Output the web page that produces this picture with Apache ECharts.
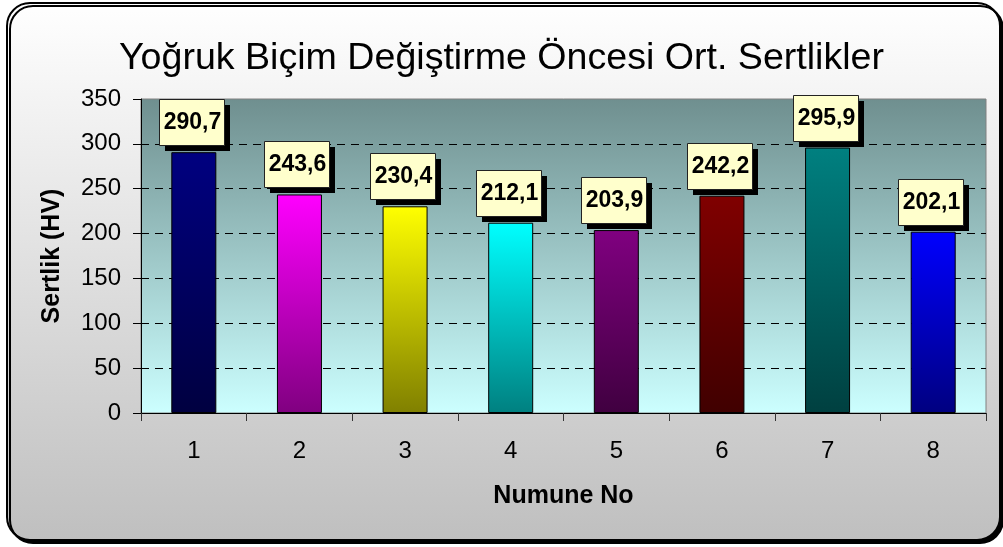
<!DOCTYPE html>
<html>
<head>
<meta charset="utf-8">
<style>
  html, body { margin: 0; padding: 0; background: #fff; }
  #chart { width: 1003px; height: 547px; }
</style>
<script src="https://cdn.jsdelivr.net/npm/echarts@6/dist/echarts.min.js"></script>
</head>
<body>
<div id="chart"></div>
<script>
// Sample numbers and their mean hardness values (HV)
const categories = ['1', '2', '3', '4', '5', '6', '7', '8'];
const hardness = [290.7, 243.6, 230.4, 212.1, 203.9, 242.2, 295.9, 202.1];
// Per-bar gradient: bright top colour fading to a dark bottom colour
const topColors = ['#000080', '#ff00ff', '#ffff00', '#00ffff', '#800080', '#800000', '#008080', '#0000ff'];
const bottomColors = ['#000040', '#800080', '#808000', '#008080', '#400040', '#400000', '#004040', '#000080'];
const yTicks = [0, 50, 100, 150, 200, 250, 300, 350];

const FONT = "'Liberation Sans', Arial, sans-serif";
const chart = echarts.init(document.getElementById('chart'), null, { renderer: 'canvas' });

const fmt = v => v.toFixed(1).replace('.', ',');

const barData = hardness.map((v, i) => ({
  value: v,
  itemStyle: {
    color: new echarts.graphic.LinearGradient(0, 0, 0, 1, [
      { offset: 0, color: topColors[i] },
      { offset: 1, color: bottomColors[i] }
    ])
  }
}));

// Value box above each bar: black drop shadow, pale yellow box, bold value text
function renderValueBox(params, api) {
  const value = api.value(1);
  const top = api.coord([api.value(0), value]);
  const boxW = 65, boxH = 46, gap = 7, shift = 6;
  const cx = Math.round(top[0] - 2);
  const x = cx - Math.round(boxW / 2);
  const y = Math.round(top[1] - gap - boxH);
  return {
    type: 'group',
    children: [
      {
        type: 'rect',
        shape: { x: x + shift, y: y + shift, width: boxW, height: boxH },
        style: { fill: '#000000', opacity: 1 }
      },
      {
        type: 'rect',
        shape: { x: x + 0.5, y: y + 0.5, width: boxW, height: boxH },
        style: { fill: '#ffffcc', stroke: '#222', lineWidth: 1 }
      },
      {
        type: 'text',
        style: {
          x: cx + 0.5,
          y: y + boxH / 2 + 0.5,
          text: fmt(value),
          align: 'center',
          verticalAlign: 'middle',
          font: 'bold 23px ' + FONT,
          fill: '#000'
        }
      }
    ]
  };
}

chart.setOption({
  backgroundColor: '#ffffff',
  animation: false,
  graphic: [{
    type: 'rect',
    z: -10,
    silent: true,
    shape: { x: 7, y: 3, width: 993, height: 537, r: 23 },
    style: {
      fill: new echarts.graphic.LinearGradient(0, 0, 0, 1, [
        { offset: 0, color: '#ffffff' },
        { offset: 1, color: '#bfbfbf' }
      ]),
      stroke: '#000000',
      lineWidth: 2,
      shadowColor: '#000000',
      shadowBlur: 0,
      shadowOffsetX: 3,
      shadowOffsetY: 3
    }
  }],
  title: {
    text: 'Yoğruk Biçim Değiştirme Öncesi Ort. Sertlikler',
    left: 'center',
    top: 40,
    padding: [0, 0, 0, 8],
    textStyle: { fontFamily: FONT, fontSize: 37.6, fontWeight: 'normal', color: '#000' }
  },
  grid: {
    left: 141, right: 17, top: 99, bottom: 134,
    show: true,
    backgroundColor: new echarts.graphic.LinearGradient(0, 0, 0, 1, [
      { offset: 0, color: '#6f8f8f' },
      { offset: 1, color: '#ccffff' }
    ]),
    borderColor: '#808080',
    borderWidth: 1
  },
  xAxis: {
    type: 'category',
    data: categories,
    name: 'Numune No',
    nameLocation: 'middle',
    nameGap: 71,
    nameTextStyle: { fontFamily: FONT, fontSize: 25, fontWeight: 'bold', color: '#000' },
    axisLine: { lineStyle: { color: '#000', width: 1 } },
    axisTick: { show: true, length: 8, lineStyle: { color: '#333' } },
    axisLabel: { fontFamily: FONT, fontSize: 24, color: '#000', margin: 26 },
    splitLine: { show: false }
  },
  yAxis: {
    type: 'value',
    min: yTicks[0],
    max: yTicks[yTicks.length - 1],
    interval: yTicks[1] - yTicks[0],
    name: 'Sertlik (HV)',
    nameLocation: 'middle',
    nameGap: 76,
    nameTextStyle: { fontFamily: FONT, fontSize: 25, fontWeight: 'bold', color: '#000' },
    axisLine: { show: true, lineStyle: { color: '#000', width: 1 } },
    axisTick: { show: true, length: 8, lineStyle: { color: '#000' } },
    axisLabel: { fontFamily: FONT, fontSize: 24, color: '#000', margin: 20 },
    splitLine: {
      show: true,
      showMinLine: false,
      showMaxLine: false,
      lineStyle: { color: '#000', width: 1, type: [8, 6] }
    }
  },
  series: [
    {
      type: 'bar',
      data: barData,
      barWidth: 45,
      itemStyle: { borderColor: '#000', borderWidth: 1 }
    },
    {
      type: 'custom',
      data: hardness.map((v, i) => [i, v]),
      encode: { x: 0, y: 1 },
      silent: true,
      z: 5,
      renderItem: renderValueBox
    }
  ]
});
</script>
</body>
</html>
